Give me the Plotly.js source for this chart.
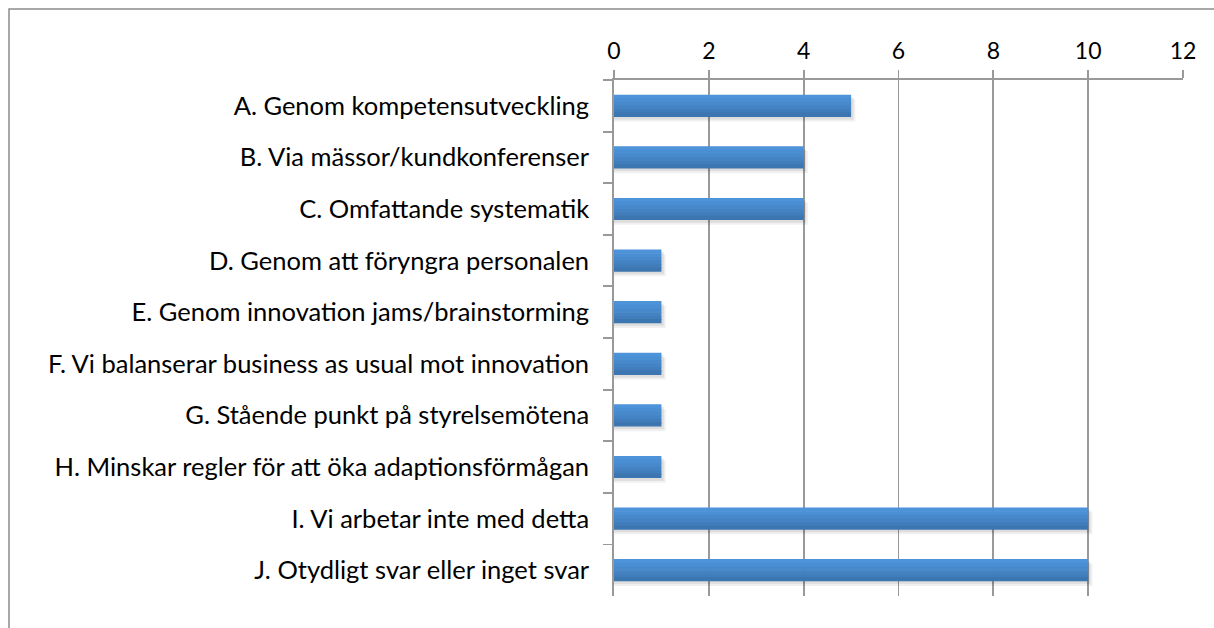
<!DOCTYPE html>
<html>
<head>
<meta charset="utf-8">
<script src="https://cdn.plot.ly/plotly-3.0.1.min.js"></script>
<style>
html,body{margin:0;padding:0;background:#fff;}
#chart{width:1214px;height:628px;}
</style>
</head>
<body>
<div id="chart"></div>
<script>
const categories = [
  "A. Genom kompetensutveckling",
  "B. Via mässor/kundkonferenser",
  "C. Omfattande systematik",
  "D. Genom att föryngra personalen",
  "E. Genom innovation jams/brainstorming",
  "F. Vi balanserar business as usual mot innovation",
  "G. Stående punkt på styrelsemötena",
  "H. Minskar regler för att öka adaptionsförmågan",
  "I. Vi arbetar inte med detta",
  "J. Otydligt svar eller inget svar"
];
const values = [5, 4, 4, 1, 1, 1, 1, 1, 10, 10];
const tickValues = [0, 2, 4, 6, 8, 10, 12];

// gradient bands (top light -> bottom dark) drawn as overlaid bars
const bandColors = ["#4c93da", "#4a8ed3", "#4789cb", "#4483c3", "#407dba", "#3c76b0"];
const barW = 0.43;
const traces = [];
// soft shadow layers
[[0.09, "rgba(0,0,0,0.06)"], [0.05, "rgba(0,0,0,0.08)"]].forEach(([d, c]) => {
  traces.push({
    type: "bar", orientation: "h", y: categories, x: values.map(v => v + d),
    width: barW, offset: -barW/2 + d,
    marker: {color: c, line: {width: 0}},
    hoverinfo: "skip", showlegend: false
  });
});
const n = bandColors.length;
for (let i = 0; i < n; i++) {
  const h = barW / n;
  traces.push({
    type: "bar", orientation: "h", y: categories, x: values,
    width: h + 0.012, offset: -barW/2 + i*h - (i === n-1 ? 0.012 : 0),
    marker: {color: bandColors[i], line: {width: 0}},
    hoverinfo: "x", showlegend: false
  });
}

const fontFam = "Lato, 'Open Sans', sans-serif";
const layout = {
  width: 1214, height: 628,
  margin: {l: 614, r: 31, t: 80, b: 32},
  paper_bgcolor: "#fff", plot_bgcolor: "#fff",
  barmode: "overlay",
  showlegend: false,
  font: {family: fontFam, size: 20, color: "#000"},
  xaxis: {
    side: "top", range: [0, 12], tickvals: tickValues,
    showgrid: true, gridcolor: "#999999", gridwidth: 1.8,
    showline: true, linecolor: "#999999", linewidth: 1.8,
    ticks: "outside", ticklen: 8, tickcolor: "#999999", tickwidth: 1.8,
    zeroline: false, fixedrange: true, ticklabelstandoff: 2,
    tickfont: {family: fontFam, size: 23, color: "#000"}
  },
  yaxis: {
    type: "category", autorange: "reversed",
    tickson: "boundaries", ticks: "outside", ticklen: 9, tickcolor: "#999999", tickwidth: 1.8,
    showline: true, linecolor: "#999999", linewidth: 1.8,
    showgrid: false, zeroline: false, fixedrange: true,
    ticklabelstandoff: 18,
    tickfont: {family: fontFam, size: 25.5, color: "#000"}
  },
  shapes: [{
    type: "rect", xref: "paper", yref: "paper",
    x0: (9 - 614) / 569, x1: 1.2, y0: -0.2, y1: 1 + (80 - 9) / 516,
    line: {color: "#8c8c8c", width: 1.5}, fillcolor: "rgba(0,0,0,0)", layer: "below"
  }]
};
Plotly.newPlot("chart", traces, layout, {displayModeBar: false, staticPlot: true});
</script>
</body>
</html>
